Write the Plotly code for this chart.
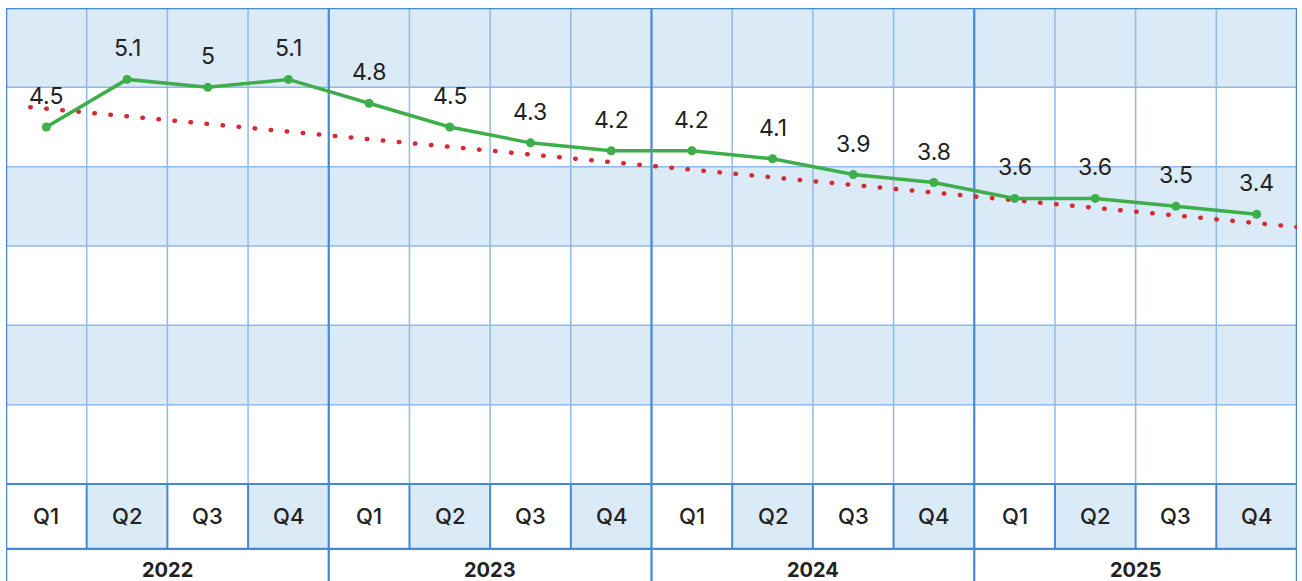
import plotly.graph_objects as go

# Quarterly series and labels
quarters = ["Q1", "Q2", "Q3", "Q4"] * 4
years = ["2022", "2023", "2024", "2025"]
values = [4.5, 5.1, 5.0, 5.1, 4.8, 4.5, 4.3, 4.2, 4.2, 4.1, 3.9, 3.8, 3.6, 3.6, 3.5, 3.4]
value_labels = ["4.5", "5.1", "5", "5.1", "4.8", "4.5", "4.3", "4.2",
                "4.2", "4.1", "3.9", "3.8", "3.6", "3.6", "3.5", "3.4"]

# Linear trend (start/end positions on the quarter axis and its values)
trend_x = [-0.2, 15.5]
trend_y = [4.75, 3.24]

BAND = "#DBEAF7"
GRID = "#8FBAE5"
EDGE = "#4689D3"
GREEN = "#3DAE49"
RED = "#D62A33"
TEXT = "#222222"

n = len(values)
x_idx = list(range(n))
Y_TOP = 6.0
Q_ROW = -0.819
Y_BOTTOM = -1.223

fig = go.Figure()

fig.add_trace(go.Scatter(
    x=trend_x, y=trend_y, mode="lines",
    line=dict(color=RED, width=4.5, dash="0.5px,15.6px"),
    hoverinfo="skip", showlegend=False,
))
fig.add_trace(go.Scatter(
    x=x_idx, y=values, mode="lines+markers",
    line=dict(color=GREEN, width=3.5),
    marker=dict(color=GREEN, size=9),
    showlegend=False,
))

shapes = []
# horizontal bands in the value area
for lo in [5, 3, 1]:
    shapes.append(dict(type="rect", xref="x", yref="y", x0=-0.5, x1=n - 0.5,
                       y0=lo, y1=lo + 1, fillcolor=BAND, line_width=0, layer="below"))
# shaded quarter cells
for i in range(n):
    if i % 2 == 1:
        shapes.append(dict(type="rect", xref="x", yref="y", x0=i - 0.5, x1=i + 0.5,
                           y0=Q_ROW, y1=0, fillcolor=BAND, line_width=0, layer="below"))
# horizontal grid lines
for v in range(1, 6):
    shapes.append(dict(type="line", xref="x", yref="y", x0=-0.5, x1=n - 0.5,
                       y0=v, y1=v, line=dict(color=GRID, width=1.5), layer="below"))
# vertical grid lines
for i in range(n - 1):
    xb = i + 0.5
    if (i + 1) % 4 == 0:
        shapes.append(dict(type="line", xref="x", yref="y", x0=xb, x1=xb,
                           y0=Y_BOTTOM, y1=Y_TOP, line=dict(color=EDGE, width=2.2), layer="below"))
    else:
        shapes.append(dict(type="line", xref="x", yref="y", x0=xb, x1=xb,
                           y0=0, y1=Y_TOP, line=dict(color=GRID, width=1.5), layer="below"))
        shapes.append(dict(type="line", xref="x", yref="y", x0=xb, x1=xb,
                           y0=Q_ROW, y1=0, line=dict(color=EDGE, width=2), layer="below"))
# table rules and outer frame
for yv in [0, Q_ROW]:
    shapes.append(dict(type="line", xref="x", yref="y", x0=-0.5, x1=n - 0.5,
                       y0=yv, y1=yv, line=dict(color=EDGE, width=2.2), layer="below"))
shapes.append(dict(type="line", xref="x", yref="y", x0=-0.5, x1=n - 0.5,
                   y0=Y_TOP, y1=Y_TOP, line=dict(color=EDGE, width=2.5), layer="below"))
for xb in [-0.5, n - 0.5]:
    shapes.append(dict(type="line", xref="x", yref="y", x0=xb, x1=xb,
                       y0=Y_BOTTOM, y1=Y_TOP, line=dict(color=EDGE, width=2.5), layer="below"))

annotations = []
for i, (v, lab) in enumerate(zip(values, value_labels)):
    annotations.append(dict(x=i, y=v, xref="x", yref="y", text=lab, showarrow=False,
                            yshift=31, font=dict(family="Inter", size=23, color=TEXT)))
for i, q in enumerate(quarters):
    annotations.append(dict(x=i, y=Q_ROW / 2, xref="x", yref="y", text=q, showarrow=False,
                            font=dict(family="Inter", size=22, color=TEXT, weight=500)))
for k, yr in enumerate(years):
    annotations.append(dict(x=4 * k + 1.5, y=(Q_ROW + Y_BOTTOM) / 2 - 0.06, xref="x", yref="y",
                            text=yr, showarrow=False,
                            font=dict(family="Inter", size=20, color=TEXT, weight=700)))

fig.update_layout(
    width=1302, height=581,
    margin=dict(l=6, r=5, t=8, b=0),
    paper_bgcolor="white", plot_bgcolor="white",
    xaxis=dict(range=[-0.5, n - 0.5], visible=False, fixedrange=True),
    yaxis=dict(range=[Y_BOTTOM, Y_TOP], visible=False, fixedrange=True),
    shapes=shapes, annotations=annotations,
    hovermode=False,
)

round_caps = ("document.querySelectorAll('.scatterlayer .js-line')"
              ".forEach(function(p){p.style.strokeLinecap='round';});")
fig.write_html("out.html", post_script=round_caps, config={"displayModeBar": False})
